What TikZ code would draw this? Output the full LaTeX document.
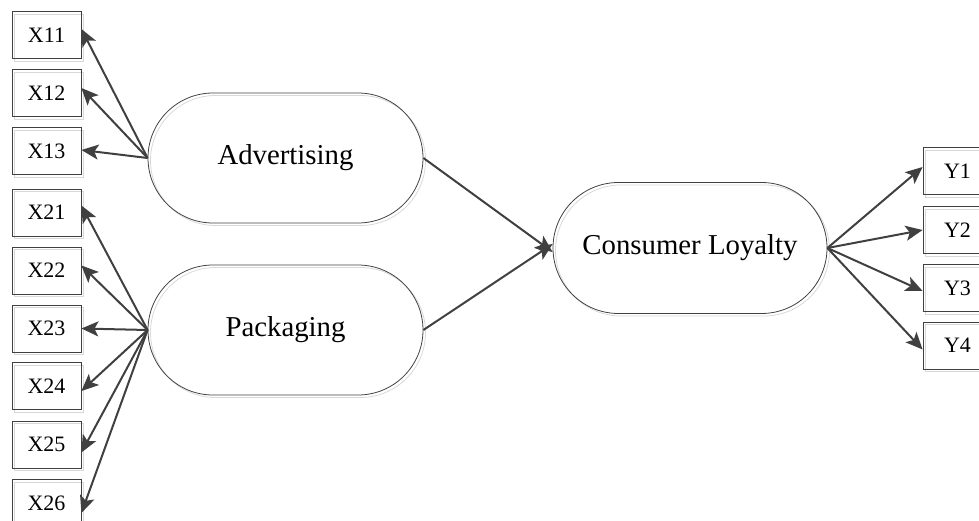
\documentclass[tikz,border=0pt]{standalone}
\usepackage{fontspec}
\setmainfont{Liberation Serif}
\usetikzlibrary{arrows.meta,shapes.misc}
\definecolor{ln}{HTML}{404040}
\definecolor{shd}{HTML}{D8D8D8}
\tikzset{
  shadowed/.style={preaction={draw=shd, line width=0.8pt, transform canvas={shift={(2.5pt,-2.5pt)}}}},
  ind/.style={draw=ln, line width=0.8pt, minimum width=69pt, minimum height=47pt,
    inner sep=0pt, font=\fontsize{22}{24}\selectfont, shadowed},
  lat/.style={draw=ln, line width=0.8pt, rounded rectangle, minimum width=275pt,
    minimum height=130pt, inner sep=0pt, font=\fontsize{28.8}{32}\selectfont, shadowed},
  arr/.style={draw=ln, line width=2pt, -{Stealth[length=17pt,width=15pt,inset=4pt]}}
}
\begin{document}
\begin{tikzpicture}[x=1pt,y=-1pt]
\useasboundingbox (0,0) rectangle (979,521);
\clip (0,0) rectangle (979,521);
% indicator boxes
\node[ind] (X11) at (46.5,35) {X11};
\node[ind] (X12) at (46.5,93) {X12};
\node[ind] (X13) at (46.5,151) {X13};
\node[ind] (X21) at (46.5,212.5) {X21};
\node[ind] (X22) at (46.5,270.5) {X22};
\node[ind] (X23) at (46.5,328.5) {X23};
\node[ind] (X24) at (46.5,386) {X24};
\node[ind] (X25) at (46.5,444.5) {X25};
\node[ind] (X26) at (46.5,503) {X26};
\node[ind] (Y1) at (957.5,171) {Y1};
\node[ind] (Y2) at (957.5,230) {Y2};
\node[ind] (Y3) at (957.5,288) {Y3};
\node[ind] (Y4) at (957.5,345.5) {Y4};
% latent variables
\node[lat] (ADV) at (285.5,158) {Advertising};
\node[lat] (PAC) at (285.5,330) {Packaging};
\node[lat, minimum width=274pt, minimum height=131pt] (CL) at (690,248) {Consumer Loyalty};
% loadings
\foreach \n/\s in {X11/6,X12/5,X13/1}{\draw[arr] (ADV.west) -- ([yshift=\s pt]\n.east);}
\foreach \n/\s in {X21/7,X22/5,X23/0,X24/-5,X25/-8,X26/-10}{\draw[arr] (PAC.west) -- ([yshift=\s pt]\n.east);}
\foreach \n/\s in {Y1/4,Y2/0,Y3/-3,Y4/-4}{\draw[arr] (CL.east) -- ([yshift=\s pt]\n.west);}
% structural paths
\draw[arr] (ADV.east) -- ([yshift=-4pt]CL.west);
\draw[arr] (PAC.east) -- ([yshift=4pt]CL.west);
\end{tikzpicture}
\end{document}
